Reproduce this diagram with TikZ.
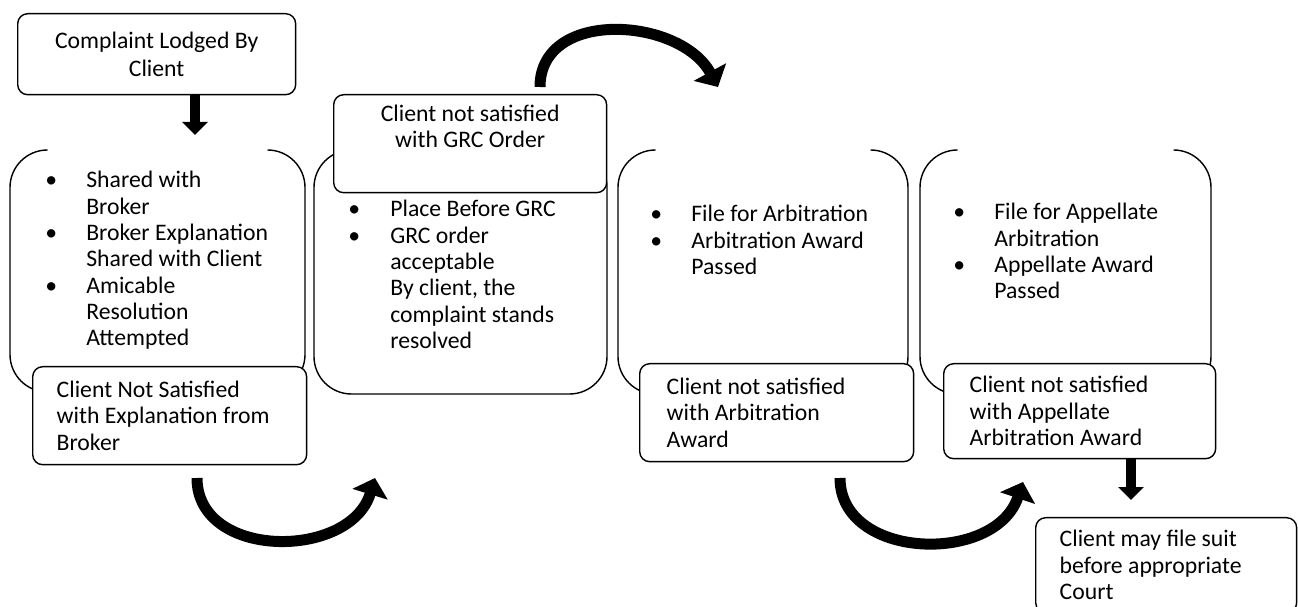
\documentclass[tikz,border=0pt]{standalone}
\usepackage{fontspec}
\setmainfont{Carlito}
\usetikzlibrary{arrows.meta}

\begin{document}
\begin{tikzpicture}[x=0.02cm,y=-0.02cm,
 font=\fontsize{13.5}{15}\selectfont,
 box/.style={draw,line width=0.8pt,rounded corners=0.2cm,fill=white,anchor=north west},
 notebox/.style={box,align=flush left},
 scroll/.style={draw,line width=0.8pt,rounded corners=0.75cm},
 items/.style={anchor=north west,inner sep=0pt},
 downarrow/.style={line width=0.19cm,-{Triangle[length=0.26cm,width=0.5cm]}},
 turnarrow/.style={line width=0.22cm,-{Triangle[length=0.34cm,width=0.72cm]}}]
 \useasboundingbox (0,0) rectangle (1298,607);

 % open-topped stage frames
 \draw[scroll] (47.5,150) -- (10,150) -- (10,392) -- (305,392) -- (305,150) -- (267.5,150);
 \draw[scroll] (351.5,150) -- (314,150) -- (314,394) -- (607,394) -- (607,150) -- (569.5,150);
 \draw[scroll] (655.5,150) -- (618,150) -- (618,394) -- (908,394) -- (908,150) -- (870.5,150);
 \draw[scroll] (957.5,150) -- (920,150) -- (920,394) -- (1211,394) -- (1211,150) -- (1173.5,150);

 \node[box,align=center,minimum width=5.56cm,minimum height=1.62cm] (lodged) at (17,13)
 {Complaint Lodged By\\[1pt]Client};

 \node[items] (steps1) at (45,169) {\begin{tabular}{@{}p{0.82cm}@{}l@{}}
 \textbullet & Shared with\\
 & Broker\\
 \textbullet & Broker Explanation\\
 & Shared with Client\\
 \textbullet & Amicable\\
 & Resolution\\
 & Attempted
 \end{tabular}};
 \node[items] (steps2) at (348,198) {\begin{tabular}{@{}p{0.84cm}@{}l@{}}
 \textbullet & Place Before GRC\\
 \textbullet & GRC order\\
 & acceptable\\
 & By client, the\\
 & complaint stands\\
 & resolved
 \end{tabular}};
 \node[items] (steps3) at (650,203) {\begin{tabular}{@{}p{0.82cm}@{}l@{}}
 \textbullet & File for Arbitration\\
 \textbullet & Arbitration Award\\
 & Passed
 \end{tabular}};
 \node[items] (steps4) at (953,201) {\begin{tabular}{@{}p{0.82cm}@{}l@{}}
 \textbullet & File for Appellate\\
 & Arbitration\\
 \textbullet & Appellate Award\\
 & Passed
 \end{tabular}};

 \node[box,align=center,minimum width=5.46cm,minimum height=1.96cm] (nosat2) at (333,94)
 {Client not satisfied\\with GRC Order\\\strut};

 \node[notebox,inner xsep=0.48cm,text width=4.52cm,minimum height=1.96cm] (nosat1) at (32,366)
 {Client Not Satisfied\\with Explanation from\\Broker};
 \node[notebox,inner xsep=0.54cm,text width=4.4cm,minimum height=1.96cm] (nosat3) at (639,363)
 {Client not satisfied\\with Arbitration\\Award};
 \node[notebox,inner xsep=0.52cm,text width=4.4cm,minimum height=1.9cm] (nosat4) at (943,363)
 {Client not satisfied\\with Appellate\\Arbitration Award};
 \node[notebox,inner xsep=0.48cm,text width=4.26cm,minimum height=1.9cm] (court) at (1035,517)
 {Client may file suit\\before appropriate\\Court};

 % arrows
 \coordinate (in1) at (195,135);
 \coordinate (in2) at (1131,500);
 \draw[downarrow] (lodged.south -| in1) -- (in1);
 \draw[downarrow] (nosat4.south -| in2) -- (in2);

 \coordinate (t1) at (197,478);
 \coordinate (h1) at (375,478);
 \coordinate (t2) at (540,87);
 \coordinate (h2) at (718,87);
 \coordinate (t3) at (840,478);
 \coordinate (h3) at (1023,482);
 \draw[turnarrow] (t1) .. controls +(0,82) and +(-25,82) .. (h1);
 \draw[turnarrow] (t2) .. controls +(0,-79) and +(-38,-70) .. (h2);
 \draw[turnarrow] (t3) .. controls +(0,82) and +(-28,83) .. (h3);
\end{tikzpicture}
\end{document}
